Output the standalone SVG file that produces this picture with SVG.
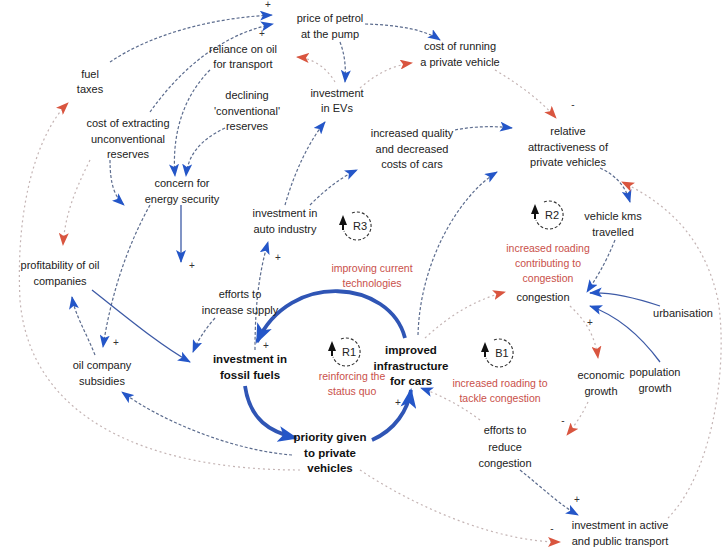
<svg xmlns="http://www.w3.org/2000/svg" width="725" height="550" viewBox="0 0 725 550">
<style>
text{font-family:"Liberation Sans",Arial,sans-serif;font-size:11px;fill:#222;text-anchor:middle}
.b{font-weight:bold;font-size:11.5px;fill:#111}
.r{fill:#c9504a;font-size:10.5px}
.sg{font-size:10px;fill:#333}
.d{fill:none;stroke:#5c6c8e;stroke-width:1.2;stroke-dasharray:3 2}
.rd{fill:none;stroke:#c4b4b4;stroke-width:1.2;stroke-dasharray:2 3}
.s{fill:none;stroke:#3d5aa6;stroke-width:1.3}
.t{fill:none;stroke:#2f55b5;stroke-width:3.8}
.lp{fill:none;stroke:#333;stroke-width:1.1;stroke-dasharray:3 2}
</style>
<defs>
<marker id="ab" markerUnits="userSpaceOnUse" markerWidth="13" markerHeight="10" refX="12" refY="5" orient="auto" viewBox="0 0 13 10"><path d="M0,0 L13,5 L0,10 L3,5 z" fill="#2456c8"/></marker>
<marker id="ar" markerUnits="userSpaceOnUse" markerWidth="13" markerHeight="10" refX="12" refY="5" orient="auto" viewBox="0 0 13 10"><path d="M0,0 L13,5 L0,10 L3,5 z" fill="#d9553f"/></marker>
<marker id="at" markerUnits="userSpaceOnUse" markerWidth="20" markerHeight="16" refX="18" refY="8" orient="auto" viewBox="0 0 20 16"><path d="M0,0 L20,8 L0,16 L5,8 z" fill="#2456c8"/></marker>
</defs>
<g id="connectors">
<path class="d" d="M110,62 C150,35 210,18 272,15" marker-end="url(#ab)"/>
<path class="d" d="M150,112 C180,70 220,35 273,24" marker-end="url(#ab)"/>
<path class="d" d="M365,24 C400,25 425,30 440,40" marker-end="url(#ab)"/>
<path class="d" d="M340,42 C345,55 346,68 345,82" marker-end="url(#ab)"/>
<path class="rd" d="M335,82 C325,65 310,58 297,57" marker-end="url(#ar)"/>
<path class="rd" d="M360,88 C375,75 390,66 412,63" marker-end="url(#ar)"/>
<path class="rd" d="M495,70 C520,85 540,100 556,118" marker-end="url(#ar)"/>
<path class="d" d="M210,70 C180,100 172,140 175,176" marker-end="url(#ab)"/>
<path class="d" d="M225,128 C200,140 188,155 186,176" marker-end="url(#ab)"/>
<path class="d" d="M110,160 C110,185 115,197 124,205" marker-end="url(#ab)"/>
<path class="s" d="M181,205 L181,262" marker-end="url(#ab)"/>
<path class="d" d="M150,205 C125,250 110,300 103,347" marker-end="url(#ab)"/>
<path class="d" d="M215,318 Q200,335 193,352" marker-end="url(#ab)"/>
<path class="d" d="M95,355 C85,330 75,315 72,297" marker-end="url(#ab)"/>
<path class="s" d="M92,290 C130,320 160,345 190,362" marker-end="url(#ab)"/>
<path class="d" d="M255,350 C255,300 260,270 268,242" marker-end="url(#ab)"/>
<path class="d" d="M285,205 C295,170 310,140 325,122" marker-end="url(#ab)"/>
<path class="d" d="M310,205 C325,190 340,178 357,170" marker-end="url(#ab)"/>
<path class="d" d="M455,130 C475,126 495,126 512,128" marker-end="url(#ab)"/>
<path class="d" d="M600,168 C615,175 625,185 630,202" marker-end="url(#ab)"/>
<path class="d" d="M615,240 C605,265 595,280 587,292" marker-end="url(#ab)"/>
<path class="s" d="M660,306 C630,296 610,292 590,293" marker-end="url(#ab)"/>
<path class="s" d="M660,362 C640,335 615,315 590,306" marker-end="url(#ab)"/>
<path class="rd" d="M570,306 C585,320 595,335 598,358" marker-end="url(#ar)"/>
<path class="rd" d="M588,402 C582,415 575,425 567,435" marker-end="url(#ar)"/>
<path class="rd" d="M425,338 C450,315 475,300 505,292" marker-end="url(#ar)"/>
<path class="rd" d="M480,420 C460,405 440,395 421,388" marker-end="url(#ab)"/>
<path class="t" d="M372,440 C395,430 408,410 411,390" marker-end="url(#at)"/>
<path class="t" d="M405,338 C390,280 290,270 257,342" marker-end="url(#at)"/>
<path class="t" d="M245,386 C250,420 270,432 296,438" marker-end="url(#at)"/>
<path class="d" d="M418,335 C420,260 460,195 497,172" marker-end="url(#ab)"/>
<path class="d" d="M292,455 C230,450 160,420 122,392" marker-end="url(#ab)"/>
<path class="rd" d="M300,470 C150,470 30,420 20,300 C15,200 40,130 68,103" marker-end="url(#ar)"/>
<path class="rd" d="M360,470 C420,510 500,542 560,542" marker-end="url(#ar)"/>
<path class="d" d="M520,470 C545,490 560,505 578,515" marker-end="url(#ab)"/>
<path class="rd" d="M668,518 C715,470 728,360 718,300 C705,240 670,205 622,182" marker-end="url(#ar)"/>
<path class="rd" d="M90,160 C75,190 65,215 63,245" marker-end="url(#ar)"/>
</g>
<g id="signs">
<text class="sg" x="268" y="8">+</text>
<text class="sg" x="262" y="37">+</text>
<text class="sg" x="192" y="269">+</text>
<text class="sg" x="278" y="261">+</text>
<text class="sg" x="266" y="349">+</text>
<text class="sg" x="398" y="406">+</text>
<text class="sg" x="116" y="346">+</text>
<text class="sg" x="577" y="503">+</text>
<text class="sg" x="590" y="326">+</text>
<text class="sg" x="573" y="108">-</text>
<text class="sg" x="563" y="424">-</text>
<text class="sg" x="552" y="532">-</text>
</g>
<g id="n-price"><text x="330" y="22">price of petrol<tspan x="330" dy="16">at the pump</tspan></text></g>
<g id="n-fueltax"><text x="90" y="78">fuel<tspan x="90" dy="15">taxes</tspan></text></g>
<g id="n-reliance"><text x="243" y="53">reliance on oil<tspan x="243" dy="15">for transport</tspan></text></g>
<g id="n-costrun"><text x="460" y="50">cost of running<tspan x="460" dy="16">a private vehicle</tspan></text></g>
<g id="n-evs"><text x="337" y="97">investment<tspan x="337" dy="15">in EVs</tspan></text></g>
<g id="n-declining"><text x="247" y="99">declining<tspan x="247" dy="15.5">'conventional'</tspan><tspan x="247" dy="15.5">reserves</tspan></text></g>
<g id="n-extract"><text x="128" y="127">cost of extracting<tspan x="128" dy="15.5">unconventional</tspan><tspan x="128" dy="15.5">reserves</tspan></text></g>
<g id="n-quality"><text x="412" y="137">increased quality<tspan x="412" dy="15.5">and decreased</tspan><tspan x="412" dy="15.5">costs of cars</tspan></text></g>
<g id="n-relative"><text x="568" y="135">relative<tspan x="568" dy="15.5">attractiveness of</tspan><tspan x="568" dy="15.5">private vehicles</tspan></text></g>
<g id="n-concern"><text x="182" y="187">concern for<tspan x="182" dy="15.5">energy security</tspan></text></g>
<g id="n-auto"><text x="285" y="217">investment in<tspan x="285" dy="15.5">auto industry</tspan></text></g>
<g id="n-vkt"><text x="613" y="220">vehicle kms<tspan x="613" dy="15.5">travelled</tspan></text></g>
<g id="n-profit"><text x="60" y="269">profitability of oil<tspan x="60" dy="15.5">companies</tspan></text></g>
<g id="n-supply"><text x="240" y="298">efforts to<tspan x="240" dy="15.5">increase supply</tspan></text></g>
<g id="n-congestion"><text x="543" y="301">congestion</text></g>
<g id="n-urban"><text x="683" y="317">urbanisation</text></g>
<g id="n-fossil"><text class="b" x="250" y="363">investment in<tspan x="250" dy="16">fossil fuels</tspan></text></g>
<g id="n-infra"><text class="b" x="411" y="354">improved<tspan x="411" dy="15.5">infrastructure</tspan><tspan x="411" dy="15.5">for cars</tspan></text></g>
<g id="n-subsidies"><text x="102" y="369">oil company<tspan x="102" dy="16">subsidies</tspan></text></g>
<g id="n-econ"><text x="601" y="379">economic<tspan x="601" dy="16">growth</tspan></text></g>
<g id="n-pop"><text x="655" y="376">population<tspan x="655" dy="16">growth</tspan></text></g>
<g id="n-priority"><text class="b" x="330" y="441">priority given<tspan x="330" dy="15.5">to private</tspan><tspan x="330" dy="15.5">vehicles</tspan></text></g>
<g id="n-reduce"><text x="505" y="434">efforts to<tspan x="505" dy="16.5">reduce</tspan><tspan x="505" dy="16.5">congestion</tspan></text></g>
<g id="n-active"><text x="620" y="529">investment in active<tspan x="620" dy="16">and public transport</tspan></text></g>
<g id="loop-R3">
<path class="lp" d="M352,213 A14,14 0 1 1 344,231"/>
<path d="M343,215 L339,225 L347,225 z M342,225 h2 v5 h-2 z" fill="#111"/>
<text x="360" y="230" font-size="10">R3</text>
<text class="r" x="372" y="272">improving current<tspan x="372" dy="15">technologies</tspan></text>
</g>
<g id="loop-R2">
<path class="lp" d="M544,202 A14,14 0 1 1 536,220"/>
<path d="M535,204 L531,214 L539,214 z M534,214 h2 v5 h-2 z" fill="#111"/>
<text x="552" y="219" font-size="10">R2</text>
<text class="r" x="548" y="252">increased roading<tspan x="548" dy="15">contributing to</tspan><tspan x="548" dy="15">congestion</tspan></text>
</g>
<g id="loop-R1">
<path class="lp" d="M341,339 A14,14 0 1 1 333,357"/>
<path d="M332,341 L328,351 L336,351 z M331,351 h2 v5 h-2 z" fill="#111"/>
<text x="349" y="356" font-size="10">R1</text>
<text class="r" x="352" y="380">reinforcing the<tspan x="352" dy="15">status quo</tspan></text>
</g>
<g id="loop-B1">
<path class="lp" d="M494,340 A14,14 0 1 1 486,358"/>
<path d="M485,342 L481,352 L489,352 z M484,352 h2 v5 h-2 z" fill="#111"/>
<text x="502" y="357" font-size="10">B1</text>
<text class="r" x="500" y="387">increased roading to<tspan x="500" dy="15">tackle congestion</tspan></text>
</g>
</svg>
